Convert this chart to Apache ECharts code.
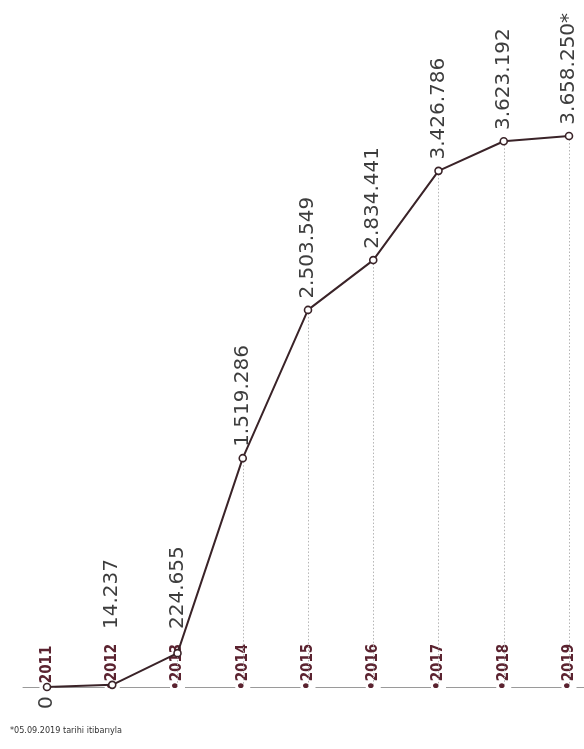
<!DOCTYPE html>
<html>
<head>
<meta charset="utf-8">
<script src="https://cdn.jsdelivr.net/npm/echarts@6/dist/echarts.min.js"></script>
<style>
html,body{margin:0;padding:0;background:#fff;}
#c{width:584px;height:749px;}
</style>
</head>
<body>
<div id="c"></div>
<script>
// Data
const years = ['2011','2012','2013','2014','2015','2016','2017','2018','2019'];
const values = [0, 14237, 224655, 1519286, 2503549, 2834441, 3426786, 3623192, 3658250];
const footnoteMarkIndex = 8;          // value marked with "*"
const footnote = '*05.09.2019 tarihi itibarıyla';

function fmt(v) {
  return String(v).replace(/\B(?=(\d{3})+(?!\d))/g, '.');
}

const chart = echarts.init(document.getElementById('c'), null, {renderer: 'canvas'});

const GRID_BOTTOM = 62;
const CAT_LABEL_TOP = 749 - GRID_BOTTOM - 58;

const lineData = values.map((v, i) => {
  const item = {value: v};
  if (v === 0) {
    item.label = {position: 'bottom', align: 'right', verticalAlign: 'middle', distance: 5};
  }
  return item;
});

const dropLines = values
  .map((v, i) => [{coord: [i, v]}, {coord: [i, 0]}])
  .filter((d, i) => values[i] > 0);

chart.setOption({
  animation: false,
  grid: [
    {left: 47, right: 15, top: 136, bottom: GRID_BOTTOM},
    {left: 23, right: 0, top: 749 - GRID_BOTTOM - 1, bottom: GRID_BOTTOM}
  ],
  xAxis: [
    {
      type: 'category',
      data: years,
      gridIndex: 0,
      boundaryGap: false,
      z: 3,
      axisLine: {show: false},
      axisTick: {show: false},
      axisLabel: {
        inside: true,
        rotate: 90,
        margin: -3,
        color: '#5b2330',
        fontFamily: '"DejaVu Sans Condensed", "Liberation Sans Narrow", "DejaVu Sans", sans-serif',
        fontWeight: 'bold',
        fontSize: 15,
        backgroundColor: '#fff',
        padding: [0, 2, 0, 0],
        formatter: (v, i) => (i === 0 ? '\u2002' : '\u2022') + v
      },
      splitLine: {show: false}
    },
    {
      type: 'value',
      gridIndex: 1,
      min: 0,
      max: 1,
      axisLine: {show: true, lineStyle: {color: '#9a9a9a', width: 1}},
      axisTick: {show: false},
      axisLabel: {show: false},
      splitLine: {show: false}
    }
  ],
  yAxis: [
    {type: 'value', gridIndex: 0, min: 0, max: Math.max(...values), show: false},
    {type: 'value', gridIndex: 1, min: 0, max: 1, show: false}
  ],
  series: [
    {
      type: 'line',
      xAxisIndex: 0,
      yAxisIndex: 0,
      data: values,
      z: 1,
      silent: true,
      showSymbol: false,
      lineStyle: {width: 0, opacity: 0},
      markLine: {
        silent: true,
        symbol: ['none', 'none'],
        label: {show: false},
        lineStyle: {color: '#b5b5b5', type: [1.5, 2], width: 1},
        data: dropLines
      }
    },
    {
      type: 'line',
      xAxisIndex: 0,
      yAxisIndex: 0,
      data: lineData,
      z: 5,
      symbol: 'circle',
      symbolSize: 7,
      itemStyle: {color: '#fff', borderColor: '#3a2328', borderWidth: 1.6},
      lineStyle: {color: '#3a2328', width: 2},
      label: {
        show: true,
        position: 'top',
        distance: 7,
        rotate: 90,
        align: 'left',
        verticalAlign: 'middle',
        color: '#3d3d3d',
        fontFamily: '"DejaVu Sans", sans-serif',
        fontSize: 20,
        formatter: p => fmt(p.value) + (p.dataIndex === footnoteMarkIndex ? '*' : '')
      },
      labelLayout: function (p) {
        if (values[p.dataIndex] === 0) return {};
        const bottom = p.labelRect.y + p.labelRect.height;
        if (bottom > CAT_LABEL_TOP) {
          // label is rotated 90deg: its local x runs upward on screen
          return {dx: bottom - CAT_LABEL_TOP};
        }
        return {};
      }
    }
  ],
  graphic: [
    {
      type: 'text',
      left: 10,
      top: 726,
      style: {
        text: footnote,
        fill: '#333',
        font: '9px "DejaVu Sans Condensed", "Liberation Sans Narrow", sans-serif'
      }
    }
  ]
});
</script>
</body>
</html>
